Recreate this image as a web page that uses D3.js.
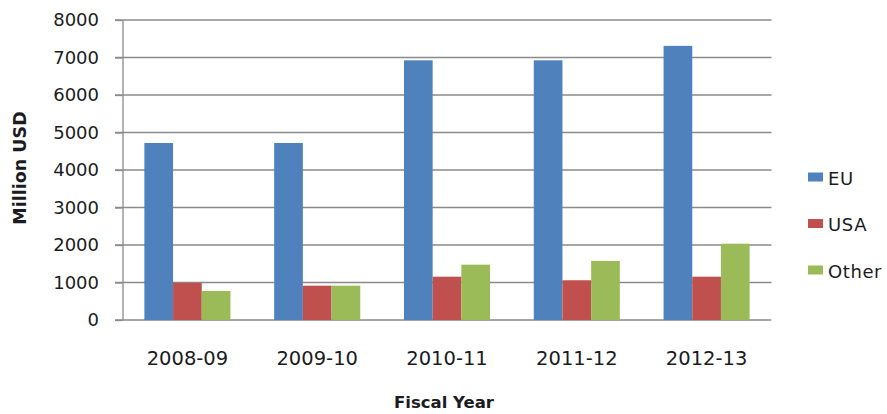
<!DOCTYPE html>
<html>
<head>
<meta charset="utf-8">
<script src="https://cdn.jsdelivr.net/npm/d3@7"></script>
<style>
  body { margin: 0; background: #fff; }
  text { font-family: "DejaVu Sans", sans-serif; fill: #1b1b22; }
</style>
</head>
<body>
<div class="chart"></div>
<script>

var years = ["2008-09", "2009-10", "2010-11", "2011-12", "2012-13"];
var seriesNames = ["EU", "USA", "Other"];
var euValues = [4720, 4720, 6925, 6925, 7310];
var usaValues = [990, 915, 1155, 1060, 1155];
var otherValues = [775, 915, 1475, 1575, 2035];
var yTicks = [0, 1000, 2000, 3000, 4000, 5000, 6000, 7000, 8000];
var colors = ["#4f81bd", "#c0504d", "#9bbb59"];

var seriesValues = [euValues, usaValues, otherValues];

var width = 887, height = 414;
// note: "top" is taken by window.top, so plot edges get their own names
var plotLeft = 122.5, plotRight = 771.5, plotTop = 20, plotBottom = 320;

var svg = d3.select(".chart").append("svg")
    .attr("width", width)
    .attr("height", height);

var x = d3.scaleBand()
    .domain(years)
    .range([plotLeft, plotRight])
    .paddingInner(0.337)
    .paddingOuter(0.1685);

var xInner = d3.scaleBand()
    .domain(seriesNames)
    .range([0, x.bandwidth()]);

var y = d3.scaleLinear()
    .domain([0, 8000])
    .range([plotBottom, plotTop]);

// gridlines (the one at 0 is the x axis line)
svg.append("g")
    .selectAll("line")
    .data(yTicks)
    .enter().append("line")
    .attr("x1", plotLeft - 7.5)
    .attr("x2", plotRight)
    .attr("y1", function(d) { return y(d); })
    .attr("y2", function(d) { return y(d); })
    .style("stroke", "#8a8a8a")
    .style("stroke-width", 1.3);

// y axis
var yAxis = svg.append("g")
    .attr("transform", "translate(" + plotLeft + ",0)")
    .call(d3.axisLeft(y).tickValues(yTicks).tickFormat(d3.format("d"))
      .tickSize(7.5).tickSizeOuter(0).tickPadding(16));
yAxis.select(".domain").style("stroke", "#8a8a8a").style("stroke-width", 1.3);
yAxis.selectAll(".tick line").style("stroke", "#8a8a8a").style("stroke-width", 1.3);
yAxis.selectAll("text")
    .attr("font-size", 18)
    .style("font-family", "DejaVu Sans")
    .style("fill", "#1b1b22");

// bars
var groups = svg.append("g")
    .selectAll("g")
    .data(years)
    .enter().append("g")
    .attr("transform", function(d) { return "translate(" + x(d) + ",0)"; });

groups.selectAll("rect")
    .data(function(d, i) {
      return seriesNames.map(function(s, j) { return {name: s, value: seriesValues[j][i], color: colors[j]}; });
    })
    .enter().append("rect")
    .attr("x", function(d) { return xInner(d.name); })
    .attr("width", xInner.bandwidth())
    .attr("y", function(d) { return y(d.value); })
    .attr("height", function(d) { return y(0) - y(d.value); })
    .style("fill", function(d) { return d.color; });

// category labels
var xAxis = svg.append("g")
    .attr("transform", "translate(0," + plotBottom + ")")
    .call(d3.axisBottom(x).tickSize(0).tickPadding(31));
xAxis.select(".domain").remove();
xAxis.selectAll("text")
    .attr("font-size", 19.5)
    .style("font-family", "DejaVu Sans")
    .style("fill", "#1b1b22");

// axis titles
svg.append("text")
    .text("Million USD")
    .attr("font-size", 17.5)
    .attr("font-weight", "bold")
    .attr("text-anchor", "middle")
    .attr("transform", "translate(26," + ((plotTop + plotBottom) / 2 - 2) + ") rotate(-90)");

svg.append("text")
    .text("Fiscal Year")
    .attr("font-size", 16.5)
    .attr("font-weight", "bold")
    .attr("text-anchor", "middle")
    .attr("x", (plotLeft + plotRight) / 2 - 3)
    .attr("y", 408);

// legend
var legend = svg.append("g")
    .selectAll("g")
    .data(seriesNames)
    .enter().append("g")
    .attr("transform", function(d, i) { return "translate(808," + (177 + i * 46.5) + ")"; });

legend.append("rect")
    .attr("x", 0)
    .attr("y", -4.5)
    .attr("width", 15)
    .attr("height", 9)
    .style("fill", function(d, i) { return colors[i]; });

legend.append("text")
    .text(function(d) { return d; })
    .attr("font-size", 18)
    .attr("letter-spacing", 0.6)
    .attr("x", 20)
    .attr("y", 7.5);

</script>
</body>
</html>
